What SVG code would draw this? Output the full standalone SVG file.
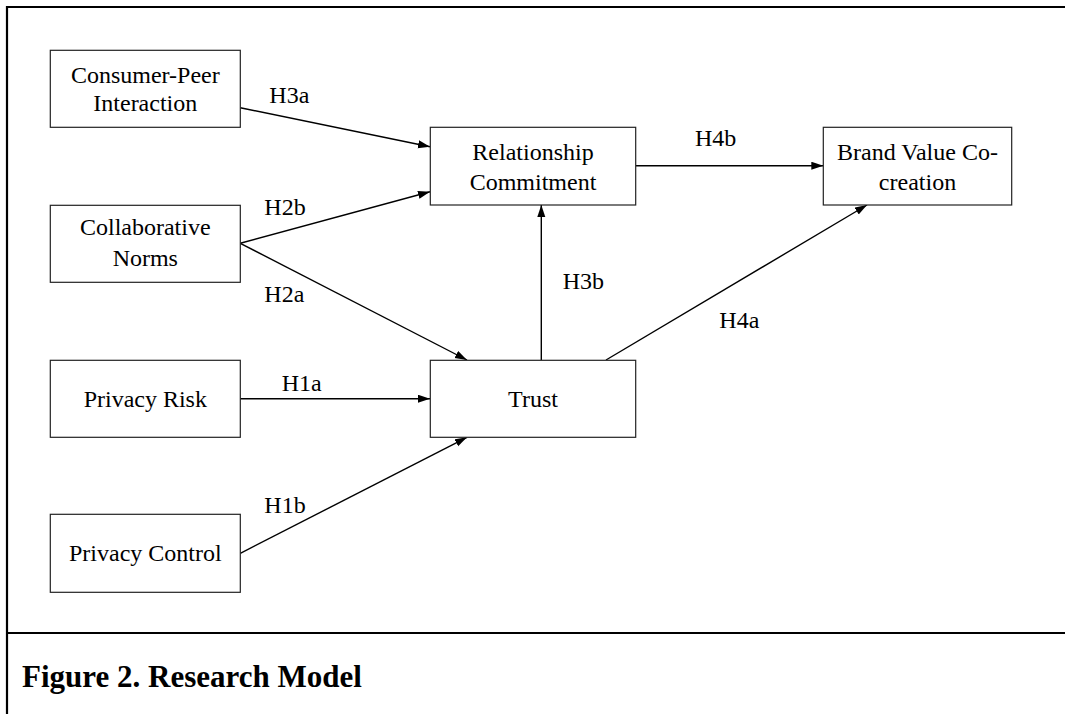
<svg xmlns="http://www.w3.org/2000/svg" width="1065" height="714" viewBox="0 0 1065 714">
<style>
.box{fill:#fff;stroke:#222;stroke-width:1.2}
.t{font-family:"Liberation Serif","Times New Roman",serif;font-size:24px;fill:#000;text-anchor:middle}
.lb{font-family:"Liberation Serif","Times New Roman",serif;font-size:24px;fill:#000}
.c{stroke:#000;stroke-width:1.4;fill:none;marker-end:url(#ah)}
.frame{stroke:#000;stroke-width:2.2;fill:none}
.cap{font-family:"Liberation Serif","Times New Roman",serif;font-size:31px;font-weight:bold;fill:#000}
</style>
<defs>
<marker id="ah" markerUnits="userSpaceOnUse" markerWidth="13" markerHeight="9" refX="12" refY="4" orient="auto">
<path d="M0,0 L12,4 L0,8 z" fill="#000"/>
</marker>
</defs>
<rect width="1065" height="714" fill="#fff"/>
<g id="frame">
<path class="frame" d="M7,714 V7 H1065"/>
<path class="frame" d="M7,633 H1065"/>
</g>
<g id="connectors">
<line class="c" x1="240.3" y1="107.7" x2="430" y2="146.7"/>
<line class="c" x1="240.3" y1="243.3" x2="430" y2="191.7"/>
<line class="c" x1="240.3" y1="243.3" x2="467" y2="360"/>
<line class="c" x1="240.3" y1="398.7" x2="430" y2="398.7"/>
<line class="c" x1="240.3" y1="553.3" x2="467" y2="437.3"/>
<line class="c" x1="541.3" y1="360" x2="541.3" y2="205"/>
<line class="c" x1="606" y1="360" x2="867" y2="205"/>
<line class="c" x1="635.7" y1="165.7" x2="823.3" y2="165.7"/>
<text class="lb" x="269.3" y="103.3">H3a</text>
<text class="lb" x="264.3" y="215">H2b</text>
<text class="lb" x="264.3" y="301.7">H2a</text>
<text class="lb" x="281.7" y="390.7">H1a</text>
<text class="lb" x="264.3" y="512.7">H1b</text>
<text class="lb" x="562.7" y="289.3">H3b</text>
<text class="lb" x="719.3" y="328.3">H4a</text>
<text class="lb" x="695" y="146">H4b</text>
</g>
<g id="consumer-peer">
<rect class="box" x="50.3" y="50.3" width="190" height="77"/>
<text class="t" x="145.3" y="82.5">Consumer-Peer</text>
<text class="t" x="145.3" y="110.5">Interaction</text>
</g>
<g id="collaborative-norms">
<rect class="box" x="50.3" y="205.3" width="190" height="77"/>
<text class="t" x="145.3" y="235">Collaborative</text>
<text class="t" x="145.3" y="265.5">Norms</text>
</g>
<g id="privacy-risk">
<rect class="box" x="50.3" y="360.3" width="190" height="77"/>
<text class="t" x="145.3" y="406.5">Privacy Risk</text>
</g>
<g id="privacy-control">
<rect class="box" x="50.3" y="514.3" width="190" height="78"/>
<text class="t" x="145.3" y="561">Privacy Control</text>
</g>
<g id="relationship-commitment">
<rect class="box" x="430.3" y="127.3" width="205.4" height="77.7"/>
<text class="t" x="533" y="159.5">Relationship</text>
<text class="t" x="533" y="189.5">Commitment</text>
</g>
<g id="trust">
<rect class="box" x="430.3" y="360.3" width="205.4" height="77"/>
<text class="t" x="533" y="406.5">Trust</text>
</g>
<g id="brand-value">
<rect class="box" x="823.3" y="127.3" width="188.4" height="77.7"/>
<text class="t" x="917.5" y="159.5">Brand Value Co-</text>
<text class="t" x="917.5" y="189.5">creation</text>
</g>
<g id="caption">
<text class="cap" x="22" y="687">Figure 2. Research Model</text>
</g>
</svg>
